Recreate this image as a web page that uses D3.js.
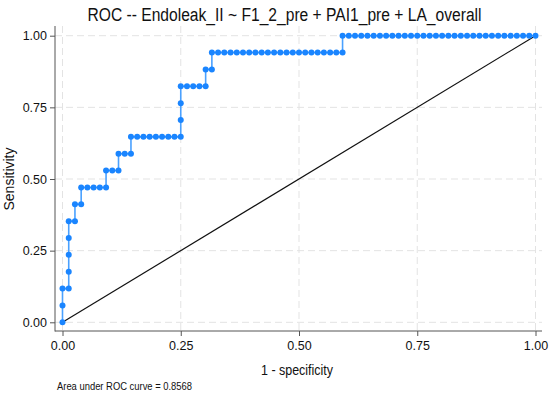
<!DOCTYPE html>
<html>
<head>
<meta charset="utf-8">
<script src="https://cdn.jsdelivr.net/npm/d3@7/dist/d3.min.js"></script>
<style>
  body { margin: 0; background: #fff; }
  svg { display: block; font-family: "Liberation Sans", Arial, Helvetica, sans-serif; }
</style>
</head>
<body>
<div id="chart"></div>
<script>
// ROC points, as counts of false positives (out of nNeg) and true positives (out of nPos)
const chartTitle = 'ROC -- Endoleak_II ~ F1_2_pre + PAI1_pre + LA_overall';
const xTitle = '1 - specificity';
const yTitle = 'Sensitivity';
const aucNote = 'Area under ROC curve = 0.8568';
const nNeg = 76;
const nPos = 17;
const falsePos = [
  0, 0, 0, 1, 1, 1, 1, 1, 2, 2, 3, 3, 4, 5, 6, 7, 7, 8, 9, 9,
  10, 11, 11, 12, 13, 14, 15, 16, 17, 18, 19, 19, 19, 19, 20, 21, 22, 23, 23, 24,
  24, 25, 26, 27, 28, 29, 30, 31, 32, 33, 34, 35, 36, 37, 38, 39, 40, 41, 42, 43,
  44, 45, 45, 46, 47, 48, 49, 50, 51, 52, 53, 54, 55, 56, 57, 58, 59, 60, 61, 62,
  63, 64, 65, 66, 67, 68, 69, 70, 71, 72, 73, 74, 75, 76
];
const truePos = [
  0, 1, 2, 2, 3, 4, 5, 6, 6, 7, 7, 8, 8, 8, 8, 8, 9, 9, 9, 10,
  10, 10, 11, 11, 11, 11, 11, 11, 11, 11, 11, 12, 13, 14, 14, 14, 14, 14, 15, 15,
  16, 16, 16, 16, 16, 16, 16, 16, 16, 16, 16, 16, 16, 16, 16, 16, 16, 16, 16, 16,
  16, 16, 17, 17, 17, 17, 17, 17, 17, 17, 17, 17, 17, 17, 17, 17, 17, 17, 17, 17,
  17, 17, 17, 17, 17, 17, 17, 17, 17, 17, 17, 17, 17, 17
];
const tickValues = [0, 0.25, 0.5, 0.75, 1];
const refLine = [0, 1];

const W = 550, H = 395;
const blue = '#1a85ff';

const points = falsePos.map((fp, i) => ({ x: fp / nNeg, y: truePos[i] / nPos }));

const svg = d3.select('#chart').append('svg')
  .attr('width', W).attr('height', H);

const x = d3.scaleLinear().domain([0, 1]).range([62.5, 535.5]);
const y = d3.scaleLinear().domain([0, 1]).range([322.3, 35.7]);

const plotLeft = 55, plotRight = 542, plotTop = 26, plotBottom = 331;

// grid
const grid = svg.append('g').attr('stroke', '#e3e3e3').attr('stroke-width', 1)
  .attr('stroke-dasharray', '7,4');
grid.selectAll('.gx').data(tickValues).join('line')
  .attr('x1', d => x(d)).attr('x2', d => x(d))
  .attr('y1', plotTop).attr('y2', plotBottom);
grid.selectAll('.gy').data(tickValues).join('line')
  .attr('x1', plotLeft).attr('x2', plotRight)
  .attr('y1', d => y(d)).attr('y2', d => y(d));

// axes
const fmt = d3.format('.2f');
const yAxis = svg.append('g').attr('transform', `translate(${plotLeft},0)`)
  .call(d3.axisLeft(y).tickValues(tickValues).tickFormat(fmt).tickSize(5).tickSizeOuter(0).tickPadding(3));
const xAxis = svg.append('g').attr('transform', `translate(0,${plotBottom})`)
  .call(d3.axisBottom(x).tickValues(tickValues).tickFormat(fmt).tickSize(5).tickSizeOuter(0).tickPadding(5));
[xAxis, yAxis].forEach(a => {
  a.select('.domain').remove();
  a.selectAll('line').attr('stroke', '#555');
  a.selectAll('text').attr('font-size', 12.5).attr('fill', '#111')
    .attr('font-family', '"Liberation Sans", Arial, sans-serif');
});
svg.append('line').attr('x1', plotLeft).attr('x2', plotLeft)
  .attr('y1', plotTop).attr('y2', plotBottom + 0.5).attr('stroke', '#555');
svg.append('line').attr('x1', plotLeft).attr('x2', plotRight)
  .attr('y1', plotBottom).attr('y2', plotBottom).attr('stroke', '#555');

// reference diagonal
svg.append('line')
  .attr('x1', x(refLine[0])).attr('y1', y(refLine[0]))
  .attr('x2', x(refLine[1])).attr('y2', y(refLine[1]))
  .attr('stroke', '#111').attr('stroke-width', 1.2);

// ROC curve
svg.append('path').datum(points)
  .attr('fill', 'none').attr('stroke', '#4aa1ff').attr('stroke-width', 1.6)
  .attr('d', d3.line().x(d => x(d.x)).y(d => y(d.y)));
svg.selectAll('.pt').data(points).join('circle')
  .attr('cx', d => x(d.x)).attr('cy', d => y(d.y)).attr('r', 3)
  .attr('fill', blue);

// texts
svg.append('text').attr('x', 284.5).attr('y', 21).attr('text-anchor', 'middle')
  .attr('font-size', 18).attr('fill', '#111')
  .attr('textLength', 394).attr('lengthAdjust', 'spacingAndGlyphs')
  .text(chartTitle);
svg.append('text').attr('x', 297).attr('y', 375).attr('text-anchor', 'middle')
  .attr('font-size', 14).attr('fill', '#111')
  .attr('textLength', 72).attr('lengthAdjust', 'spacingAndGlyphs')
  .text(xTitle);
svg.append('text').attr('transform', 'translate(14,179) rotate(-90)').attr('text-anchor', 'middle')
  .attr('font-size', 14).attr('fill', '#111')
  .text(yTitle);
svg.append('text').attr('x', 57).attr('y', 390).attr('font-size', 11).attr('fill', '#111')
  .attr('textLength', 135).attr('lengthAdjust', 'spacingAndGlyphs')
  .text(aucNote);
</script>
</body>
</html>
